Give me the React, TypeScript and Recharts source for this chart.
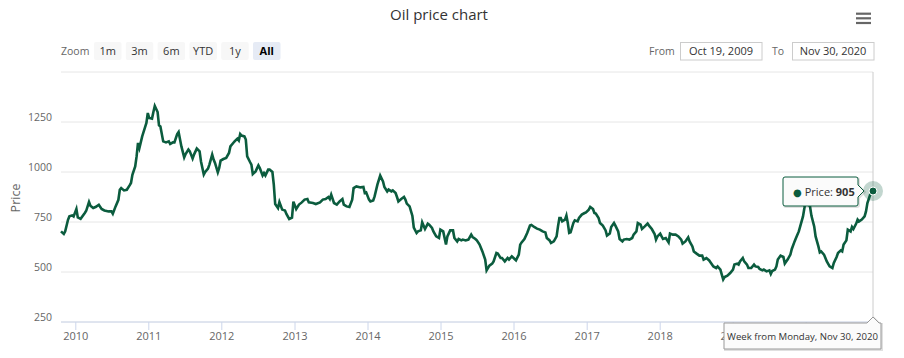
import React from 'react';
import { LineChart, Line, XAxis, YAxis, CartesianGrid, ReferenceLine, ReferenceDot } from 'recharts';

// ---- data ----
const START = Date.UTC(2009, 9, 19);
const DAY = 86400000;

// weeks since Monday, Oct 19, 2009
const weekOffsets = [
  0, 2, 3, 5, 6, 8, 9, 11, 12, 14,
  17, 18, 20, 21, 23, 25, 27, 29, 31, 34,
  36, 37, 39, 41, 42, 43, 45, 47, 49, 50,
  51, 53, 54, 55, 56, 58, 60, 61, 62, 63,
  65, 66, 67, 69, 70, 71, 73, 75, 77, 78,
  80, 81, 83, 84, 86, 88, 89, 91, 92, 94,
  95, 97, 99, 100, 102, 103, 105, 106, 108, 109,
  110, 112, 113, 114, 116, 118, 120, 121, 123, 124,
  126, 127, 128, 129, 131, 132, 133, 135, 136, 137,
  139, 141, 142, 144, 145, 146, 148, 149, 151, 152,
  153, 155, 156, 158, 160, 161, 163, 165, 166, 168,
  170, 172, 174, 176, 177, 180, 182, 185, 187, 189,
  191, 192, 193, 195, 197, 199, 201, 202, 204, 206,
  208, 209, 211, 214, 216, 217, 218, 220, 221, 223,
  224, 226, 228, 230, 231, 233, 234, 236, 237, 239,
  240, 241, 243, 245, 246, 247, 249, 251, 252, 254,
  255, 257, 258, 260, 262, 263, 265, 266, 268, 270,
  271, 273, 275, 276, 278, 280, 281, 283, 284, 286,
  287, 289, 291, 293, 294, 296, 297, 299, 301, 303,
  304, 306, 308, 309, 311, 312, 314, 315, 317, 319,
  320, 322, 324, 325, 327, 328, 329, 331, 333, 335,
  336, 338, 340, 342, 344, 346, 347, 349, 350, 352,
  354, 355, 356, 357, 358, 360, 361, 362, 363, 364,
  366, 367, 369, 370, 372, 374, 375, 377, 378, 380,
  381, 382, 384, 385, 387, 389, 390, 392, 393, 395,
  396, 398, 399, 401, 402, 404, 406, 408, 409, 411,
  412, 414, 415, 417, 419, 420, 422, 424, 425, 426,
  428, 429, 430, 432, 434, 435, 437, 439, 441, 443,
  444, 446, 448, 449, 451, 452, 454, 456, 458, 459,
  461, 463, 464, 466, 468, 469, 471, 472, 473, 474,
  476, 478, 480, 481, 483, 484, 485, 487, 488, 490,
  491, 493, 495, 496, 498, 499, 501, 502, 504, 506,
  507, 508, 510, 511, 512, 514, 516, 517, 519, 521,
  522, 524, 525, 527, 528, 530, 531, 532, 533, 535,
  536, 538, 539, 541, 542, 543, 545, 546, 547, 549,
  551, 552, 554, 555, 557, 558, 559, 561, 562, 564,
  565, 566, 568, 569, 570, 572, 574, 575, 576, 578, 580,
];

const prices = [
  703, 690, 703, 761, 778, 783, 778, 815, 773, 766,
  795, 806, 850, 831, 820, 826, 836, 815, 808, 803,
  803, 791, 828, 861, 911, 920, 908, 911, 933, 945,
  986, 1028, 1078, 1145, 1120, 1178, 1223, 1245, 1295, 1270,
  1267, 1300, 1330, 1300, 1233, 1228, 1153, 1148, 1153, 1140,
  1148, 1148, 1190, 1200, 1128, 1073, 1090, 1112, 1103, 1067,
  1087, 1117, 1103, 1053, 987, 1000, 1017, 1037, 1087, 1062,
  1045, 998, 1020, 1057, 1065, 1070, 1095, 1128, 1145, 1153,
  1167, 1158, 1190, 1182, 1178, 1162, 1078, 1050, 1037, 990,
  1003, 1033, 1020, 983, 995, 983, 1012, 1012, 1000, 937,
  840, 820, 850, 812, 807, 790, 765, 772, 852, 815,
  837, 848, 862, 865, 848, 845, 840, 848, 862, 865,
  875, 865, 887, 845, 837, 853, 865, 837, 828, 825,
  862, 920, 928, 923, 925, 895, 898, 862, 853, 858,
  878, 937, 982, 953, 925, 903, 912, 903, 908, 895,
  875, 853, 865, 875, 862, 842, 828, 780, 722, 695,
  703, 708, 748, 715, 742, 737, 720, 703, 678, 670,
  712, 703, 637, 678, 708, 708, 670, 653, 665, 658,
  662, 658, 662, 687, 675, 665, 658, 637, 603, 562,
  508, 532, 542, 553, 595, 592, 570, 570, 553, 570,
  562, 578, 565, 558, 587, 637, 648, 665, 695, 732,
  735, 725, 717, 712, 703, 698, 670, 658, 645, 653,
  678, 728, 770, 770, 753, 762, 782, 745, 695, 698,
  745, 758, 753, 770, 787, 795, 798, 812, 825, 815,
  795, 792, 770, 745, 732, 708, 682, 692, 725, 745,
  732, 703, 665, 653, 662, 665, 662, 670, 687, 703,
  745, 737, 715, 728, 742, 732, 715, 690, 662, 678,
  692, 678, 665, 670, 648, 692, 687, 687, 678, 662,
  642, 653, 673, 653, 628, 603, 592, 582, 582, 562,
  570, 558, 548, 528, 520, 528, 512, 487, 463, 475,
  482, 495, 512, 537, 542, 537, 553, 570, 553, 537,
  520, 520, 537, 528, 525, 515, 508, 512, 503, 508,
  490, 505, 512, 528, 562, 582, 575, 542, 562, 587,
  615, 653, 670, 703, 728, 778, 820, 870, 845, 828,
  782, 728, 678, 628, 598, 603, 587, 570, 553, 528,
  520, 545, 575, 595, 608, 603, 637, 658, 712, 703,
  725, 715, 742, 762, 753, 762, 778, 803, 845, 887, 905,
];

const yearTicks = [2010, 2011, 2012, 2013, 2014, 2015, 2016, 2017, 2018, 2019, 2020];
const priceTicks = [250, 500, 750, 1000, 1250, 1500];
const zoomButtons = ['1m', '3m', '6m', 'YTD', '1y', 'All'];
const selectedZoom = 'All';
const chartTitle = 'Oil price chart';
const seriesName = 'Price';
const fromDate = 'Oct 19, 2009';
const toDate = 'Nov 30, 2020';
const hoverLabel = 'Week from Monday, Nov 30, 2020';

const data = weekOffsets.map((w, i) => ({ t: START + w * 7 * DAY, price: prices[i] }));
const last = data[data.length - 1];
const xDomain = [data[0].t, last.t];
const yDomain = [priceTicks[0], priceTicks[priceTicks.length - 1]];

const GREEN = '#0b5c3e';
const FONT = '"Open Sans", "DejaVu Sans", sans-serif';

const YTick = (props: any) => {
  const { x, y, payload } = props;
  if (payload.value === priceTicks[priceTicks.length - 1]) return <g />;
  return (
    <text x={x} y={y - 1} textAnchor="end" fontSize={10.5} fill="#666" fontFamily={FONT}>
      {payload.value}
    </text>
  );
};

const HoverPoint = (props: any) => {
  const { cx, cy } = props;
  const bx = cx - 90;
  const by = cy - 14;
  const bw = 75;
  const bh = 29;
  const path = `M ${bx + 2} ${by} L ${bx + bw - 2} ${by} Q ${bx + bw} ${by} ${bx + bw} ${by + 2} L ${bx + bw} ${cy - 6} L ${cx - 9} ${cy} L ${bx + bw} ${cy + 6} L ${bx + bw} ${by + bh - 2} Q ${bx + bw} ${by + bh} ${bx + bw - 2} ${by + bh} L ${bx + 2} ${by + bh} Q ${bx} ${by + bh} ${bx} ${by + bh - 2} L ${bx} ${by + 2} Q ${bx} ${by} ${bx + 2} ${by} Z`;
  return (
    <g>
      <circle cx={cx} cy={cy} r={10} fill={GREEN} fillOpacity={0.25} />
      <circle cx={cx} cy={cy} r={4} fill={GREEN} stroke="#fff" strokeWidth={1} />
      <path d={path} transform="translate(1,1)" fill="none" stroke="rgba(0,0,0,0.12)" strokeWidth={2} />
      <path d={path} fill="#fbfbfb" stroke={GREEN} strokeWidth={1} />
      <text x={bx + 10} y={cy + 4.5} fontSize={11} fontFamily={FONT} fill="#333">
        <tspan fill={GREEN} fontSize={10}>●</tspan>
        <tspan dx={3}>{seriesName}: </tspan>
        <tspan fontWeight="bold">{last.price}</tspan>
      </text>
    </g>
  );
};

const HoverXLabel = (props: any) => {
  const { cx, cy } = props;
  const left = cx - 149;
  const right = cx + 8;
  const top = cy + 1;
  const bottom = cy + 27;
  const path = `M ${left} ${top} L ${cx - 6} ${top} L ${cx} ${cy - 5} L ${cx + 6} ${top} L ${right} ${top} L ${right} ${bottom} L ${left} ${bottom} Z`;
  return (
    <g>
      <path d={path} transform="translate(1,1)" fill="none" stroke="rgba(0,0,0,0.12)" strokeWidth={2} />
      <path d={path} fill="#fbfbfb" stroke="#999" strokeWidth={1} />
      <text x={(left + right) / 2} y={cy + 17.5} textAnchor="middle" fontSize={9.6} fontFamily={FONT} fill="#333">
        {hoverLabel}
      </text>
    </g>
  );
};

export default function App() {
  return (
    <div style={{ position: 'absolute', left: 0, top: 0, width: 904, height: 358, background: '#fff', fontFamily: FONT }}>
      <LineChart width={904} height={358} data={data} margin={{ top: 72, right: 31, bottom: 0, left: 0 }}>
        <CartesianGrid horizontal vertical={false} stroke="#e6e6e6" />
        <XAxis
          dataKey="t"
          type="number"
          domain={xDomain}
          ticks={yearTicks.map((y) => Date.UTC(y, 0, 1))}
          tickFormatter={(v: number) => String(new Date(v).getUTCFullYear())}
          height={36}
          stroke="#ccd6eb"
          tickSize={8}
          tickMargin={2}
          tick={{ fill: '#666', fontSize: 11, fontFamily: FONT }}
          interval={0}
        />
        <YAxis
          type="number"
          domain={yDomain}
          ticks={priceTicks}
          width={61}
          axisLine={false}
          tickLine={false}
          tickSize={0}
          tickMargin={9}
          tick={<YTick />}
          interval={0}
        />
        <ReferenceLine x={last.t} stroke="#cccccc" strokeWidth={1} />
        <Line
          type="linear"
          dataKey="price"
          stroke={GREEN}
          strokeWidth={2.6}
          dot={false}
          activeDot={false}
          isAnimationActive={false}
        />
      </LineChart>
      {/* hover layer, drawn above the axes with the same scales */}
      <div style={{ position: 'absolute', left: 0, top: 0, pointerEvents: 'none' }}>
        <LineChart width={904} height={358} data={data} margin={{ top: 72, right: 31, bottom: 36, left: 61 }}>
          <XAxis dataKey="t" type="number" domain={xDomain} hide />
          <YAxis type="number" domain={yDomain} hide />
          <Line dataKey="price" stroke="none" dot={false} activeDot={false} isAnimationActive={false} />
          <ReferenceDot x={last.t} y={priceTicks[0]} ifOverflow="visible" shape={<HoverXLabel />} />
          <ReferenceDot x={last.t} y={last.price} ifOverflow="visible" shape={<HoverPoint />} />
        </LineChart>
      </div>
      <svg width={904} height={70} style={{ position: 'absolute', left: 0, top: 0 }} fontFamily={FONT}>
        <text x={439} y={19.5} textAnchor="middle" fontSize={15} fill="#333">{chartTitle}</text>
        <g stroke="#666" strokeWidth={2.2}>
          <line x1={856} x2={871} y1={13.7} y2={13.7} />
          <line x1={856} x2={871} y1={18.3} y2={18.3} />
          <line x1={856} x2={871} y1={23} y2={23} />
        </g>
        <text x={61} y={54.5} fontSize={10.5} fill="#666">Zoom</text>
        {zoomButtons.map((b, i) => {
          const x = 94 + i * 31.8;
          const sel = b === selectedZoom;
          return (
            <g key={b}>
              <rect x={x} y={42} width={27.5} height={18} rx={2} fill={sel ? '#e6ebf5' : '#f7f7f7'} />
              <text x={x + 13.75} y={55} textAnchor="middle" fontSize={11} fill={sel ? '#000' : '#333'} fontWeight={sel ? 'bold' : 'normal'}>
                {b}
              </text>
            </g>
          );
        })}
        <text x={649} y={55} fontSize={10.5} fill="#666">From</text>
        <rect x={680.5} y={42.5} width={81.5} height={17.5} fill="#fff" stroke="#ccc" />
        <text x={721} y={55} textAnchor="middle" fontSize={11} fill="#333">{fromDate}</text>
        <text x={772} y={55} fontSize={10.5} fill="#666">To</text>
        <rect x={792.5} y={42.5} width={81.5} height={17.5} fill="#fff" stroke="#ccc" />
        <text x={833} y={55} textAnchor="middle" fontSize={11} fill="#333">{toDate}</text>
      </svg>
      <svg width={30} height={358} style={{ position: 'absolute', left: 0, top: 0 }} fontFamily={FONT}>
        <text transform="translate(19.5,198) rotate(-90)" textAnchor="middle" fontSize={12.5} fill="#666">{seriesName}</text>
      </svg>
    </div>
  );
}
